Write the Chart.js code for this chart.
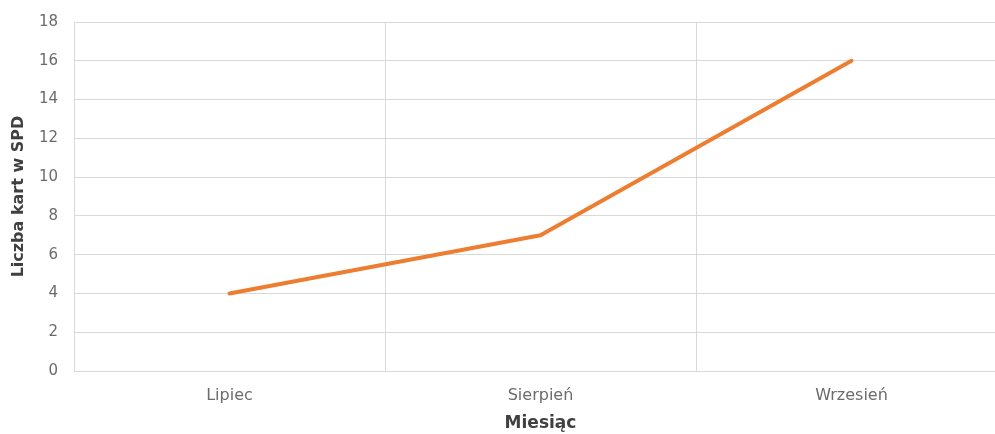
<!DOCTYPE html>
<html><head><meta charset="utf-8">
<script src="https://cdn.jsdelivr.net/npm/chart.js@4"></script>
<style>html,body{margin:0;padding:0;overflow:hidden;background:#fff}#w{position:relative;top:-3px;width:1010px;height:437px}</style>
</head><body><div id="w"><canvas id="c"></canvas></div>
<script>
const categories = ["Lipiec", "Sierpień", "Wrzesień"];
const values = [4, 7, 16];
const yTicks = [0, 2, 4, 6, 8, 10, 12, 14, 16, 18];
const xTitle = "Miesiąc";
const yTitle = "Liczba kart w SPD";
const FONT = "'DejaVu Sans', sans-serif";
new Chart(document.getElementById('c'), {
  type: 'line',
  data: { labels: categories, datasets: [{ data: values, borderColor: '#ED7D31', borderWidth: 4, pointRadius: 0, tension: 0, borderCapStyle: 'round', borderJoinStyle: 'round' }] },
  options: {
    responsive: true, maintainAspectRatio: false, animation: false,
    layout: { padding: { top: 19, right: 3, left: 0, bottom: 0 } },
    plugins: { legend: { display: false }, tooltip: { enabled: false } },
    scales: {
      x: {
        offset: true,
        grid: { offset: true, color: '#d9d9d9', drawTicks: false, lineWidth: 1 },
        border: { color: '#d9d9d9' },
        ticks: { color: '#6b6b6b', font: { family: FONT, size: 16 }, padding: 15 },
        title: { display: true, text: xTitle, color: '#404040', font: { family: FONT, size: 17, weight: 'bold' }, padding: { top: 10, bottom: 0 } },
        afterFit: s => { s.height = 63; }
      },
      y: {
        min: 0, max: 18,
        afterBuildTicks: s => { s.ticks = yTicks.map(v => ({ value: v })); },
        grid: { color: '#d9d9d9', drawTicks: false, lineWidth: 1 },
        border: { color: '#d9d9d9' },
        ticks: { color: '#6b6b6b', font: { family: FONT, size: 15 }, padding: 16 },
        title: { display: true, text: yTitle, color: '#404040', font: { family: FONT, size: 16, weight: 'bold' }, padding: { top: 9, bottom: 0 } },
        afterFit: s => { s.width = 74; }
      }
    }
  }
});
</script></body></html>
